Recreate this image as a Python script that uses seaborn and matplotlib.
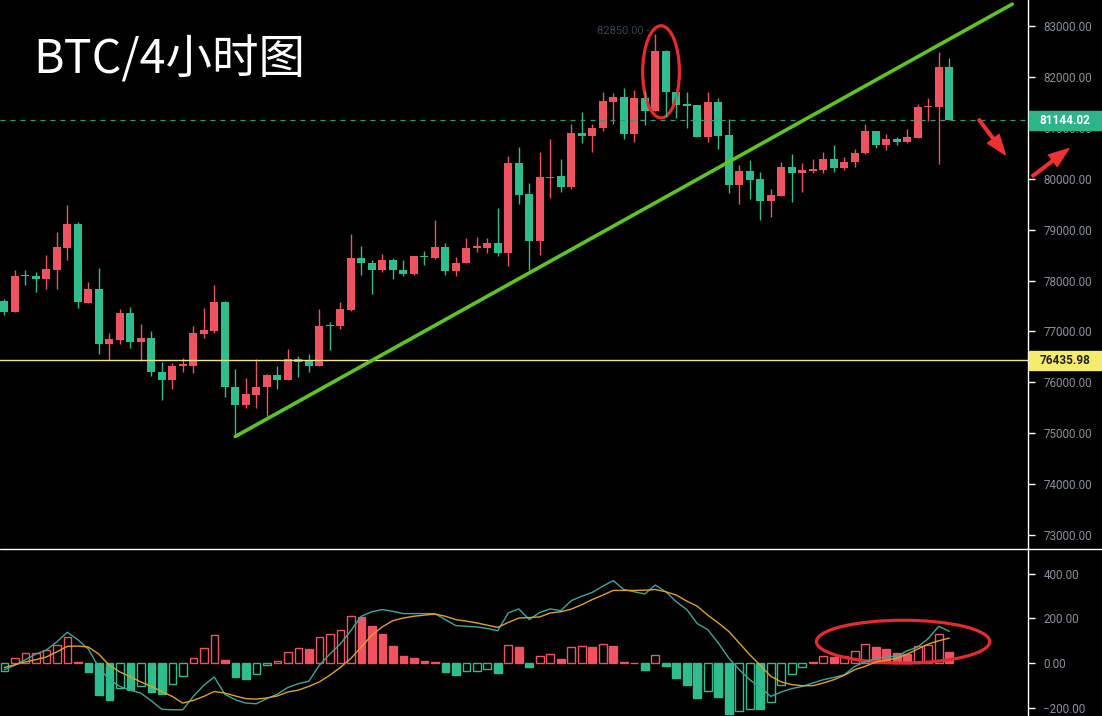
import numpy as np
import pandas as pd
import seaborn as sns
import matplotlib.pyplot as plt
from matplotlib.patches import Ellipse, Rectangle
from matplotlib import transforms

# 4h candles, oldest first
opens = [77606, 77376, 78112, 78098, 78020, 78203, 78630, 79102, 77561, 77842,
         76760, 76839, 77370, 76785, 76878, 76209, 76037, 76327, 76313, 76957,
         77002, 77587, 75913, 75545, 75756, 75900, 76144, 76037, 76465, 76411,
         76313, 77134, 77101, 77415, 78433, 78348, 78197, 78394, 78211, 78118,
         78486, 78447, 78663, 78183, 78348, 78630, 78630, 78742, 78545, 80303,
         79693, 78774, 80014, 80053, 79837, 80894, 80841, 80992, 81510, 81596,
         80874, 81577, 81333, 82502, 81695, 81459, 81445, 80829, 81498, 80854,
         79876, 80146, 79988, 79561, 79660, 80230, 80120, 80152, 80165, 80382,
         80205, 80329, 80500, 80939, 80657, 80776, 80722, 80795, 81400, 81411,
         82187]
highs = [77640, 78197, 78197, 78164, 78492, 78951, 79476, 79148, 77967, 78250,
         76970, 77443, 77474, 77148, 77002, 76406, 76380, 76470, 77114, 77463,
         77902, 77600, 76262, 76077, 76459, 76160, 76327, 76661, 76510, 76557,
         77443, 77187, 77581, 78906, 78675, 78400, 78512, 78447, 78394, 78472,
         78577, 79187, 78742, 78466, 78841, 78860, 78841, 79431, 80447, 80624,
         79910, 80533, 80776, 80382, 81071, 81313, 81071, 81707, 81675, 81780,
         81746, 81726, 82850, 82528, 81695, 81695, 81445, 81695, 81577, 81169,
         80264, 80368, 80132, 79791, 80329, 80494, 80303, 80396, 80533, 80657,
         80435, 80593, 81071, 80939, 80874, 80829, 80972, 81465, 81577, 82482,
         82364]
lows = [77325, 77376, 77915, 77770, 77842, 77837, 78400, 77463, 77561, 76557,
        76445, 76760, 76667, 76425, 76130, 75658, 75874, 76195, 76183, 76872,
        76970, 75711, 74935, 75494, 75494, 75329, 75868, 76037, 76104, 76195,
        76313, 76642, 77049, 77396, 78118, 77744, 78164, 78033, 78085, 78104,
        78301, 78413, 78118, 78085, 78335, 78557, 78545, 78478, 78282, 79496,
        78203, 78492, 79628, 79738, 79791, 80711, 80526, 80939, 81071, 80776,
        80722, 81057, 81333, 81203, 81189, 81006, 80829, 80722, 80579, 79713,
        79496, 79594, 79187, 79254, 79660, 79541, 79738, 80106, 80106, 80132,
        80171, 80230, 80480, 80612, 80565, 80657, 80697, 80795, 81136, 80284,
        81144]
closes = [77376, 78098, 78085, 78033, 78217, 78650, 79102, 77573, 77842, 76760,
          76858, 77370, 76785, 76878, 76195, 76037, 76327, 76353, 76970, 77035,
          77587, 75907, 75545, 75776, 75913, 76150, 76037, 76465, 76400, 76313,
          77114, 77101, 77449, 78433, 78335, 78197, 78394, 78197, 78118, 78472,
          78459, 78663, 78183, 78348, 78644, 78675, 78742, 78545, 80303, 79679,
          78774, 80033, 80041, 79837, 80894, 80841, 81006, 81530, 81596, 80874,
          81577, 81333, 82502, 81695, 81451, 81431, 80829, 81498, 80841, 79876,
          80146, 79974, 79561, 79673, 80230, 80106, 80165, 80185, 80382, 80205,
          80337, 80514, 80939, 80657, 80776, 80722, 80821, 81400, 81419, 82187,
          81144.02]

# MACD panel
dif = [-30, -10, 15, 40, 58, 95, 138, 105, 63, -20,
       -75, -105, -122, -135, -170, -208, -210, -210, -150, -100,
       -63, -140, -165, -180, -183, -160, -140, -110, -93, -82,
       -10, 40, 85, 145, 210, 230, 240, 232, 222, 222,
       222, 222, 195, 168, 165, 162, 155, 145, 225, 243,
       195, 227, 243, 235, 280, 300, 317, 345, 370, 330,
       320, 310, 350, 320, 275, 240, 177, 150, 90, 22,
       -30, -75, -110, -150, -130, -115, -105, -90, -75, -65,
       -53, -15, 5, 20, 28, 30, 55, 72, 110, 165,
       142]
dea = [-20, -8, 5, 15, 27, 50, 75, 76, 72, 40,
       -10, -40, -62, -85, -105, -128, -150, -180, -168, -150,
       -128, -135, -148, -160, -162, -157, -148, -130, -122, -105,
       -85, -55, -20, 20, 72, 125, 162, 190, 202, 210,
       215, 220, 210, 195, 188, 180, 170, 160, 182, 202,
       204, 207, 225, 230, 242, 262, 285, 305, 326, 326,
       326, 327, 330, 320, 305, 278, 255, 215, 180, 142,
       90, 37, -10, -60, -85, -97, -102, -102, -90, -75,
       -55, -30, -15, 5, 12, 22, 40, 63, 85, 100,
       112]
hist = [-35, 22, 45, 47, 57, 82, 117, 6, -42, -142,
        -165, -112, -120, -105, -132, -138, -93, -57, 22, 67,
        124, 15, -63, -72, -49, -8, 10, 48, 67, 64,
        117, 132, 150, 212, 207, 165, 132, 78, 33, 22,
        10, 6, -42, -56, -38, -35, -27, -45, 82, 72,
        -18, 30, 40, 19, 72, 78, 72, 87, 78, 3,
        2, -30, 36, -12, -66, -100, -157, -124, -153, -228,
        -217, -205, -207, -175, -97, -50, -18, 6, 30, 28,
        31, 52, 84, 72, 63, 45, 40, 75, 82, 132,
        49]

last_price = 81144.02
mark_price = 76435.98
trend_x = [22, 96]
trend_y = [74935, 83430]
price_ticks = np.arange(73000, 83001, 1000)
macd_ticks = [-200, 0, 200, 400]

RED = '#ef5261'
GREEN = '#2fbd8e'

sns.set_style('dark', {'axes.facecolor': 'black', 'figure.facecolor': 'black'})
plt.rcParams['font.family'] = ['Roboto', 'Noto Sans CJK SC', 'DejaVu Sans']

df = pd.DataFrame({'open': opens, 'high': highs, 'low': lows, 'close': closes})
df['idx'] = np.arange(len(df))
df['color'] = np.where(df['close'] >= df['open'], RED, GREEN)

W, H = 1102, 716
split = 1 - 549 / H
right = 1028 / W
fig = plt.figure(figsize=(W / 100, H / 100), dpi=100)
ax = fig.add_axes([0, split, right, 1 - split])
ax2 = fig.add_axes([0, 0, right, split])

# candles
ax.vlines(df['idx'], df['low'], df['high'], colors=df['color'], lw=1)
body = (df['close'] - df['open']).abs().clip(lower=25)
ax.bar(df['idx'], body, bottom=df[['open', 'close']].min(axis=1),
       width=0.74, color=df['color'], lw=0)

ax.axhline(mark_price, color='#f1e88c', lw=1)
ax.axhline(last_price, color='#2a9c7f', lw=0.9, ls=(0, (4, 4)))
sns.lineplot(x=trend_x, y=trend_y, ax=ax, color='#5dc426', lw=2.6)

# highest price marker
imax = int(np.argmax(highs))
ax.annotate(f'{highs[imax]:.2f} -', xy=(imax, highs[imax]), xytext=(-4, 2),
            textcoords='offset points', ha='right', va='center',
            color='#3a4452', fontsize=8)

ax.add_patch(Ellipse((62.55, 82100), 3.5, 1810, fill=False, ec='#e62a2e', lw=2.3))

# MACD histogram: hollow when rising, solid when falling
h = np.array(hist)
rising = np.r_[True, h[1:] > h[:-1]]
edge = np.where(h >= 0, RED, GREEN)
face = np.where(rising, 'black', edge)
ax2.bar(df['idx'], h, width=0.72, color=face, edgecolor=edge, lw=1)
sns.lineplot(x=df['idx'], y=dif, ax=ax2, color='#3aa999', lw=1)
sns.lineplot(x=df['idx'], y=dea, ax=ax2, color='#e0a12a', lw=1)
ax2.add_patch(Ellipse((85.6, 96), 16.5, 192, fill=False, ec='#e62a2e', lw=2.3))

ax.set_xlim(-0.41, 97.5)
ax2.set_xlim(-0.41, 97.5)
ax.set_ylim(72725, 83511)
ax2.set_ylim(-238, 512)

for a, ticks in [(ax, price_ticks), (ax2, macd_ticks)]:
    a.grid(False)
    a.set_xticks([])
    a.yaxis.tick_right()
    a.set_yticks(ticks)
    a.yaxis.set_major_formatter('{x:.2f}')
    a.tick_params(axis='y', length=5, width=1, color='white', labelcolor='#8a909b',
                  labelsize=8.4, pad=6)
    for s in ['top', 'left', 'bottom']:
        a.spines[s].set_visible(False)
    a.spines['right'].set_visible(True)
    a.spines['right'].set_color('white')
    a.spines['right'].set_linewidth(1)
    a.set_xlabel('')
    a.set_ylabel('')

# price tags on the axis
blend = transforms.blended_transform_factory(ax.transAxes, ax.transData)
for price, bg, fg in [(last_price, '#2db489', 'white'), (mark_price, '#f5eb6d', '#222222')]:
    ax.add_patch(Rectangle((1.001, price - 186), 0.07, 372, transform=blend,
                           color=bg, clip_on=False, zorder=5))
    ax.text(1.036, price, f'{price:.2f}', transform=blend, ha='center', va='center',
            color=fg, fontsize=8.5, fontweight='bold', zorder=6, clip_on=False)

# separator between panels
fig.add_artist(plt.Line2D([0, 1], [split, split], transform=fig.transFigure,
                          color='white', lw=1))

fig.text(33 / W, 1 - 73 / H, 'BTC/4小时图', color='white', fontsize=33.5,
         va='baseline', family=['Noto Sans CJK SC', 'DejaVu Sans'])

# red arrows
arrow = dict(arrowstyle='simple,head_length=0.9,head_width=0.65,tail_width=0.12',
             color='#ef3131', mutation_scale=16)
ax.annotate('', xy=(1007, H - 157), xytext=(977, H - 117), xycoords='figure pixels',
            textcoords='figure pixels', arrowprops=arrow, annotation_clip=False)
ax.annotate('', xy=(1071, H - 147), xytext=(1030, H - 178), xycoords='figure pixels',
            textcoords='figure pixels', arrowprops=arrow, annotation_clip=False)

fig.savefig('out.png', dpi=100, facecolor='black')
